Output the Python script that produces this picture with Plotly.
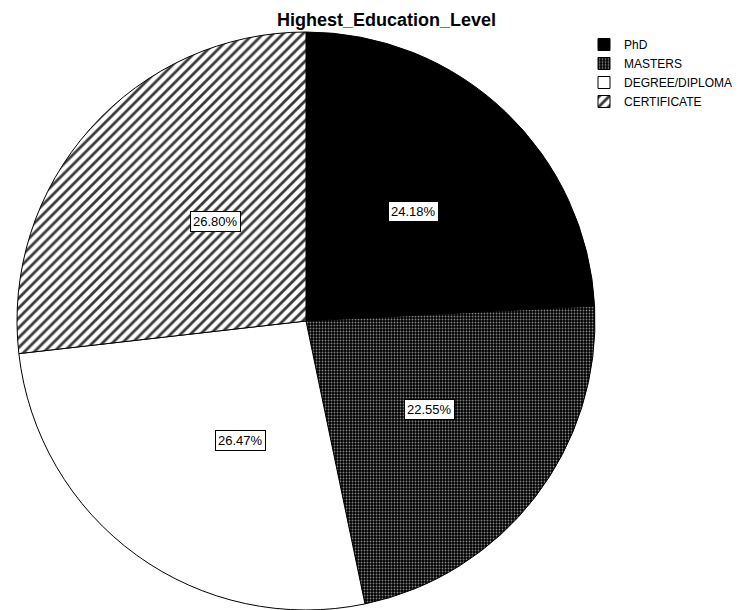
import math
import plotly.graph_objects as go

# Share of respondents by highest education level (percent)
levels = ["PhD", "MASTERS", "DEGREE/DIPLOMA", "CERTIFICATE"]
shares = [24.18, 22.55, 26.47, 26.80]

W, H = 739, 610
# pie placement in pixels
cx, cy, r = 306, 321, 289

fills = ["black", "black", "white", "white"]
pat_shape = ["", ".", "", "/"]
pat_fg = ["black", "#858585", "black", "#3a3a3a"]
pat_bg = ["black", "black", "white", "white"]
pat_size = [6, 3, 6, 7]
pat_solid = [0.3, 0.3, 0.3, 0.4]

FONT = "Liberation Sans, Arial, sans-serif"

fig = go.Figure()
fig.add_trace(go.Pie(
    labels=levels,
    values=shares,
    sort=False,
    direction="clockwise",
    rotation=0,
    textinfo="none",
    hoverinfo="label+percent",
    marker=dict(
        colors=fills,
        line=dict(color="black", width=1),
        pattern=dict(shape=pat_shape, fgcolor=pat_fg, bgcolor=pat_bg,
                     size=pat_size, solidity=pat_solid, fillmode="replace"),
    ),
    domain=dict(x=[(cx - r) / W, (cx + r) / W], y=[1 - (cy + r) / H, 1 - (cy - r) / H]),
))

# boxed percentage labels along each slice's middle angle
total = sum(shares)
cum = 0.0
annotations = []
for v in shares:
    mid = (cum + v / 2) / total * 2 * math.pi
    cum += v
    d = 0.54 * r
    px = cx + d * math.sin(mid)
    py = cy - d * math.cos(mid)
    annotations.append(dict(
        x=px / W, y=1 - py / H, xref="paper", yref="paper", yshift=-4,
        text=f"{v / total * 100:.2f}%", showarrow=False,
        font=dict(family=FONT, size=13, color="black"),
        bgcolor="white", bordercolor="black", borderwidth=1, borderpad=2,
    ))

fig.update_layout(
    width=W, height=H,
    margin=dict(l=0, r=0, t=0, b=0),
    paper_bgcolor="white",
    plot_bgcolor="white",
    font=dict(family=FONT, size=12, color="black"),
    title=dict(text="<b>Highest_Education_Level</b>", x=277 / W, xanchor="left",
               y=1 - 20 / H, yanchor="middle",
               font=dict(family=FONT, size=18, color="black")),
    legend=dict(x=584 / W, y=1 - 30 / H, xanchor="left", yanchor="top",
                bgcolor="rgba(0,0,0,0)", font=dict(family=FONT, size=12), itemwidth=30),
    annotations=annotations,
)

fig.write_html("out.html")
